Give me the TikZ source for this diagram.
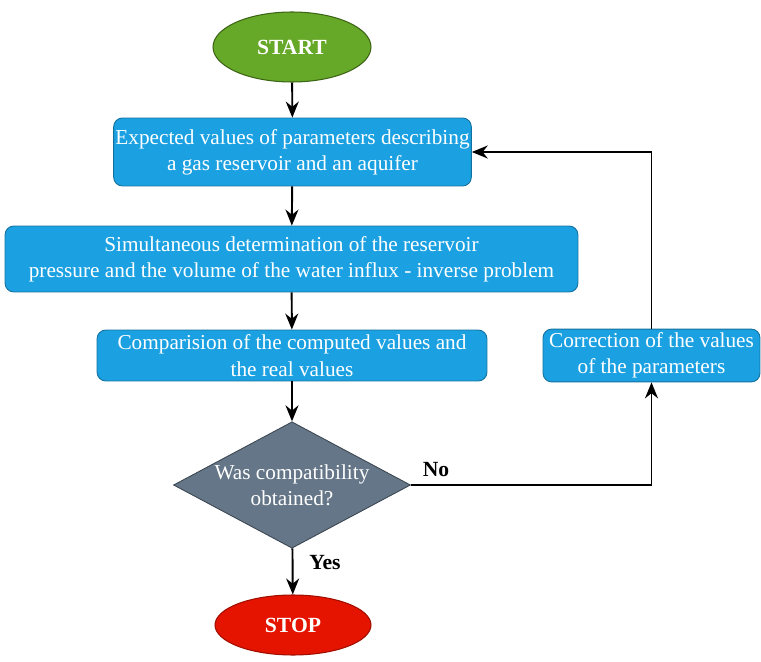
\documentclass[tikz,border=0pt]{standalone}
\usepackage{fontspec}
\setmainfont{Liberation Serif}
\usetikzlibrary{shapes.geometric,arrows.meta}

\definecolor{startgreen}{HTML}{66A827}
\definecolor{stopred}{HTML}{E51400}
\definecolor{procblue}{HTML}{1BA1E2}
\definecolor{decslate}{HTML}{647687}

\begin{document}
\begin{tikzpicture}[x=0.02cm,y=-0.02cm,
    every node/.style={font=\fontsize{12.1}{15}\selectfont},
    terminal/.style={ellipse,draw,line width=.6pt,text=white,inner sep=0pt,
      font=\fontsize{12.3}{15}\selectfont\bfseries},
    process/.style={rectangle,rounded corners=5pt,draw=procblue!70!black,line width=.5pt,
      fill=procblue,text=white,align=center,inner xsep=1pt,inner ysep=2pt},
    decision/.style={diamond,draw=decslate!60!black,line width=.5pt,fill=decslate,
      text=white,align=center,inner sep=0pt,shape aspect=1.82},
    flow/.style={-{Stealth[length=3.2mm,width=2.6mm]},line width=1.1pt}]
  \useasboundingbox (0,0) rectangle (761,662);
  \node[terminal,fill=startgreen,draw=startgreen!60!black,minimum width=3.16cm,minimum height=1.4cm]
    (start) at (292,47) {START};
  \node[process,minimum width=7.02cm,minimum height=1.36cm] (expect) at (292.5,152)
    {Expected values of parameters describing\\a gas reservoir and an aquifer};
  \node[process,minimum width=11.46cm,minimum height=1.32cm] (inverse) at (291.5,259)
    {Simultaneous determination of the reservoir\\pressure and the volume of the water influx - inverse problem};
  \node[process,minimum width=7.8cm,minimum height=1.02cm] (compare) at (292,355.5)
    {Comparision of the computed values and\\the real values};
  \node[decision,minimum width=4.74cm] (check) at (292,485)
    {Was compatibility\\obtained?};
  \node[terminal,fill=stopred,draw=stopred!70!black,minimum width=3.12cm,minimum height=1.2cm]
    (stop) at (293,625) {STOP};
  \node[process,minimum width=4.34cm,minimum height=1.02cm] (correct) at (651.5,355.5)
    {Correction of the values\\of the parameters};

  \draw[flow] (start) -- (expect);
  \draw[flow] (expect) -- (inverse);
  \draw[flow] (inverse) -- (compare);
  \draw[flow] (compare) -- (check);
  \draw[flow] (check) -- (stop);
  \draw[flow] (check.east) -| (correct.south);
  \draw[flow] (correct.north) |- (expect.east);

  \node[font=\fontsize{12.3}{15}\selectfont\bfseries] (nolabel) at (436,470) {No};
  \node[font=\fontsize{12.3}{15}\selectfont\bfseries] (yeslabel) at (325,563) {Yes};
\end{tikzpicture}
\end{document}
